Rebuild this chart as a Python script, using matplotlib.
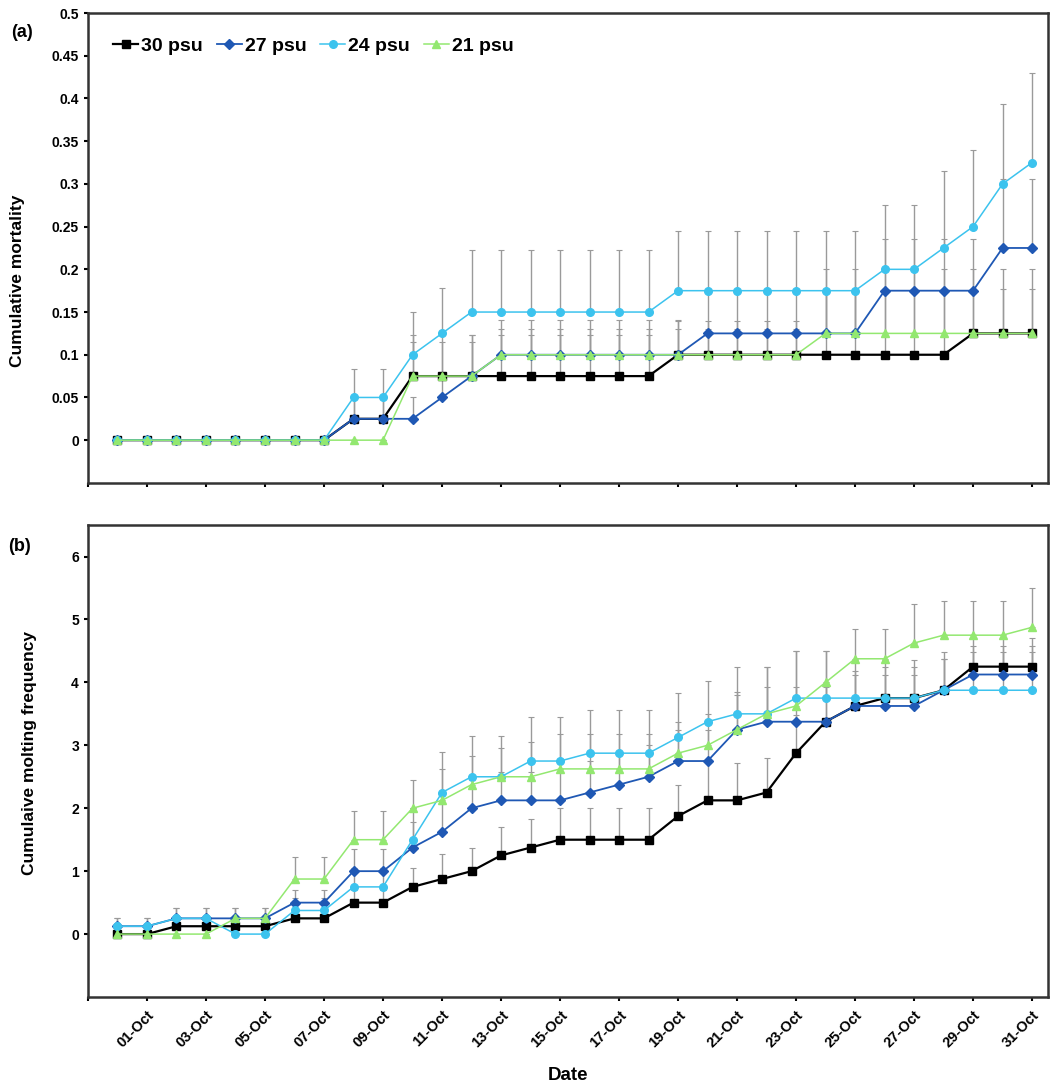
import numpy as np
import pandas as pd
import matplotlib
matplotlib.use("Agg")
import matplotlib.pyplot as plt
import matplotlib.dates as mdates

plt.rcParams['font.family'] = ['Liberation Sans', 'DejaVu Sans']
plt.rcParams['font.weight'] = 'bold'

# sampling days: 30-Sep .. 31-Oct
dates = pd.date_range('2012-09-30', '2012-10-31', freq='D')
series = ['30 psu', '27 psu', '24 psu', '21 psu']
colors = ['#000000', '#1f58b4', '#3cc3ee', '#93e870']
markers = ['s', 'D', 'o', '^']

# (a) cumulative mortality
mort_30 = [0]*8 + [0.025, 0.025] + [0.075]*9 + [0.1]*10 + [0.125]*3
mort_27 = [0]*8 + [0.025, 0.025, 0.025, 0.05, 0.075] + [0.1]*7 + [0.125]*6 + [0.175]*4 + [0.225]*2
mort_24 = [0]*8 + [0.05, 0.05, 0.1, 0.125] + [0.15]*7 + [0.175]*7 + [0.2, 0.2, 0.225, 0.25, 0.3, 0.325]
mort_21 = [0]*10 + [0.075]*3 + [0.1]*11 + [0.125]*8

mort_se_30 = [0]*8 + [0.025]*2 + [0.048]*9 + [0.04]*5 + [0.077]*5 + [0.052]*3
mort_se_27 = [0]*8 + [0.025]*3 + [0.029, 0.048] + [0.041]*7 + [0.048]*6 + [0.06]*4 + [0.081]*2
mort_se_24 = [0]*8 + [0.033]*2 + [0.05, 0.053] + [0.073]*7 + [0.07]*7 + [0.075, 0.075, 0.09, 0.09, 0.093, 0.105]
mort_se_21 = [0]*10 + [0.04]*3 + [0.03]*11 + [0.075]*8

# (b) cumulative molting frequency
molt_30 = [0, 0, 0.125, 0.125, 0.125, 0.125, 0.25, 0.25, 0.5, 0.5, 0.75, 0.875, 1.0, 1.25, 1.375,
           1.5, 1.5, 1.5, 1.5, 1.875, 2.125, 2.125, 2.25, 2.875, 3.375, 3.625, 3.75, 3.75, 3.875,
           4.25, 4.25, 4.25]
molt_27 = [0.125, 0.125, 0.25, 0.25, 0.25, 0.25, 0.5, 0.5, 1.0, 1.0, 1.375, 1.625, 2.0, 2.125, 2.125,
           2.125, 2.25, 2.375, 2.5, 2.75, 2.75, 3.25, 3.375, 3.375, 3.375, 3.625, 3.625, 3.625, 3.875,
           4.125, 4.125, 4.125]
molt_24 = [0.125, 0.125, 0.25, 0.25, 0, 0, 0.375, 0.375, 0.75, 0.75, 1.5, 2.25, 2.5, 2.5, 2.75,
           2.75, 2.875, 2.875, 2.875, 3.125, 3.375, 3.5, 3.5, 3.75, 3.75, 3.75, 3.75, 3.75, 3.875,
           3.875, 3.875, 3.875]
molt_21 = [0, 0, 0, 0, 0.25, 0.25, 0.875, 0.875, 1.5, 1.5, 2.0, 2.125, 2.375, 2.5, 2.5,
           2.625, 2.625, 2.625, 2.625, 2.875, 3.0, 3.25, 3.5, 3.625, 4.0, 4.375, 4.375, 4.625, 4.75,
           4.75, 4.75, 4.875]

molt_se_30 = [0, 0] + [0.125]*4 + [0.16]*2 + [0.2]*2 + [0.3, 0.4, 0.37, 0.45, 0.45] + [0.5]*5 + \
             [0.6, 0.6, 0.55, 0.6, 0.6, 0.55, 0.5, 0.5, 0.5, 0.45, 0.45, 0.45]
molt_se_27 = [0.125]*2 + [0.16]*4 + [0.2]*2 + [0.35]*2 + [0.4, 0.45, 0.45, 0.45, 0.45, 0.45] + \
             [0.5]*5 + [0.55]*4 + [0.5]*4 + [0.45]*3
molt_se_24 = [0.125]*2 + [0.16]*2 + [0, 0] + [0.2]*2 + [0.3]*2 + [0.5, 0.65, 0.65, 0.65, 0.7, 0.7] + \
             [0.68]*3 + [0.7, 0.65, 0.75, 0.75, 0.75, 0.75] + [0.6]*7
molt_se_21 = [0]*4 + [0.16]*2 + [0.35]*2 + [0.45]*2 + [0.45, 0.5, 0.45, 0.45, 0.55] + [0.55]*4 + \
             [0.5, 0.5, 0.6, 0.75, 0.875, 0.5, 0.475, 0.475, 0.625, 0.55, 0.55, 0.55, 0.625]

mort = [mort_30, mort_27, mort_24, mort_21]
mort_se = [mort_se_30, mort_se_27, mort_se_24, mort_se_21]
molt = [molt_30, molt_27, molt_24, molt_21]
molt_se = [molt_se_30, molt_se_27, molt_se_24, molt_se_21]

fig = plt.figure(figsize=(10.55, 10.90), dpi=100)
ax1 = fig.add_axes([0.0834, 0.557, 0.910, 0.431])
ax2 = fig.add_axes([0.0834, 0.0853, 0.910, 0.433])

msizes = [5.5, 5.0, 5.5, 6.0]
lws = [1.6, 1.3, 1.1, 1.1]


def draw(ax, vals, errs):
    for i in range(4):
        y = np.array(vals[i])
        e = np.array(errs[i])
        ax.errorbar(dates, y, yerr=[np.zeros_like(e), e], fmt='none', ecolor='#9a9a9a',
                    elinewidth=1.0, capsize=2, capthick=0.8, zorder=1)
    for i in range(4):
        ax.plot(dates, vals[i], color=colors[i], marker=markers[i], ms=msizes[i],
                mec=colors[i], mfc=colors[i], lw=lws[i], label=series[i], zorder=3 + i)


draw(ax1, mort, mort_se)
draw(ax2, molt, molt_se)

x0 = pd.Timestamp('2012-09-29')
x1 = pd.Timestamp('2012-10-31') + pd.Timedelta(hours=13)
for ax in (ax1, ax2):
    ax.set_xlim(x0, x1)
    ax.xaxis.set_major_locator(mdates.DayLocator(bymonthday=range(1, 32, 2)))
    for s in ax.spines.values():
        s.set_linewidth(1.8)
        s.set_color('#333333')
    ax.tick_params(direction='out', length=3, width=1.5, labelsize=10)
    for t in ax.get_yticklabels():
        t.set_fontweight('bold')

ax1.set_ylim(-0.05, 0.5)
ax1.set_yticks(np.arange(0, 0.501, 0.05))
ax1.set_yticklabels(['0', '0.05', '0.1', '0.15', '0.2', '0.25', '0.3', '0.35', '0.4', '0.45', '0.5'],
                    fontweight='bold')
ax1.set_xticklabels([])
ax1.set_ylabel('Cumulative mortality', fontsize=12.5, fontweight='bold')
ax1.yaxis.set_label_coords(-0.066, 0.43)

ax2.set_ylim(-1, 6.5)
ax2.set_yticks(range(0, 7))
ax2.set_yticklabels([str(v) for v in range(0, 7)], fontweight='bold')
ax2.xaxis.set_major_formatter(plt.FuncFormatter(
    lambda v, p: '' if mdates.num2date(v).month == 9 else mdates.num2date(v).strftime('%d-%b')))
plt.setp(ax2.get_xticklabels(), rotation=45, ha='right', rotation_mode='anchor',
         fontweight='bold', fontsize=10.5)
ax2.tick_params(axis='x', pad=5)
ax2.set_ylabel('Cumulaive molting frequency', fontsize=12.5, fontweight='bold')
ax2.yaxis.set_label_coords(-0.053, 0.517)
ax2.set_xlabel('Date', fontsize=13.5, fontweight='bold', labelpad=12)

ax1.legend(loc='upper left', bbox_to_anchor=(0.018, 0.965), ncol=4, frameon=False,
           handlelength=1.3, handletextpad=0.15, columnspacing=0.7,
           prop={'weight': 'bold', 'size': 14}, borderaxespad=0)

fig.text(0.011, 0.97, '(a)', fontsize=13, fontweight='bold', va='center')
fig.text(0.008, 0.499, '(b)', fontsize=13, fontweight='bold', va='center')

fig.savefig('out.png', dpi=100)
